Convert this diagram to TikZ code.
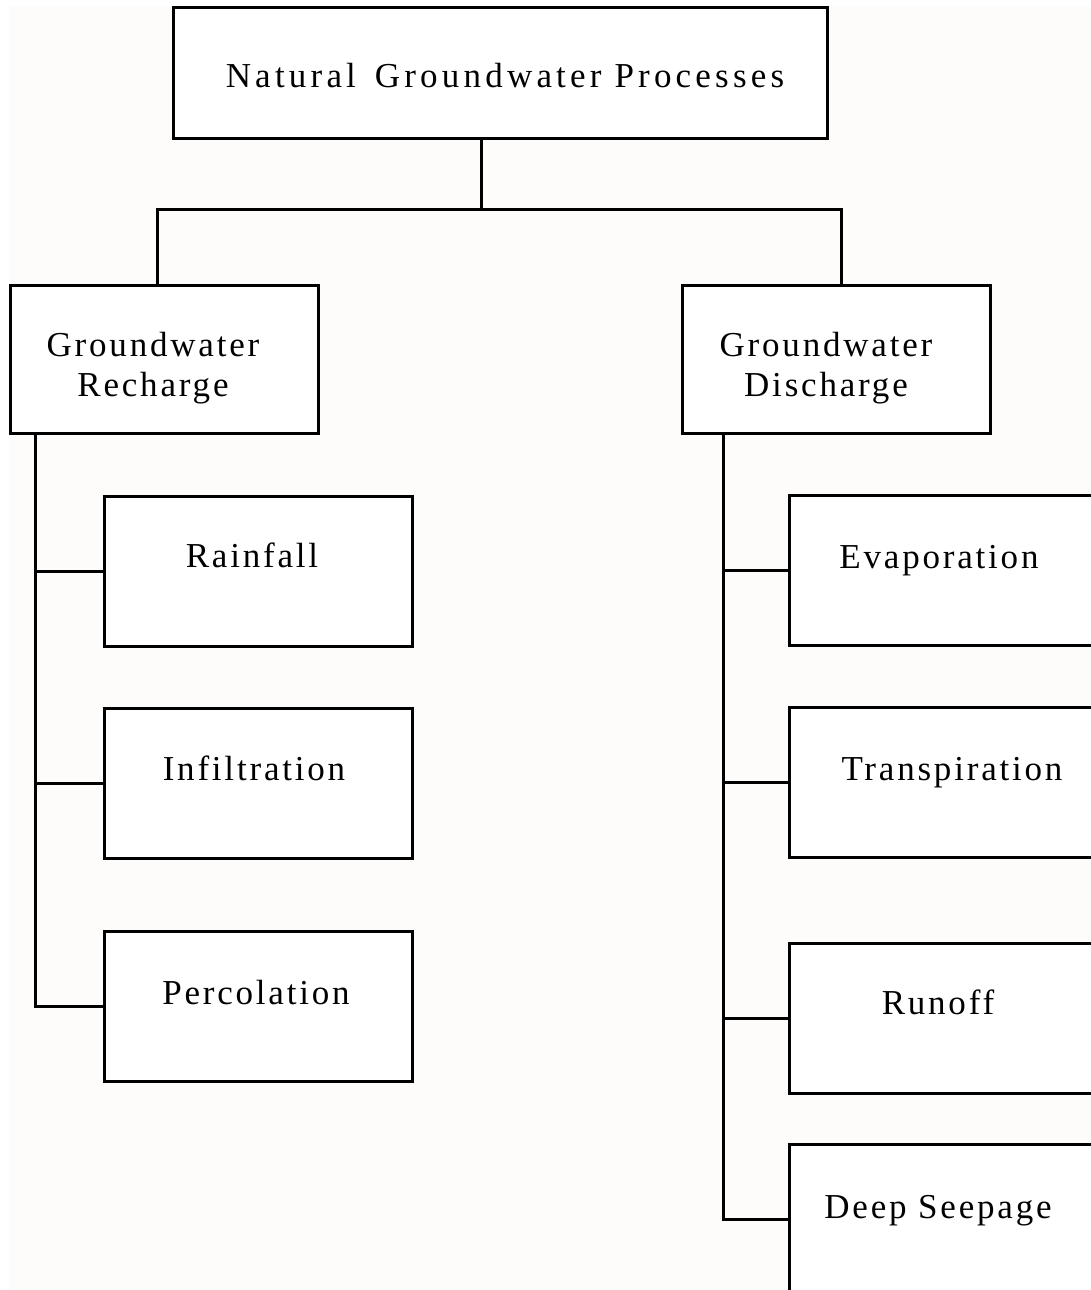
\documentclass[tikz,border=0pt]{standalone}
\usepackage{fontspec}
\setmainfont{Liberation Serif}[LetterSpace=8]
\definecolor{paper}{HTML}{FDFCFA}
\begin{document}
\begin{tikzpicture}[x=1pt,y=-1pt,
  box/.style={draw,line width=3pt,fill=white,inner sep=0pt,outer sep=0pt,minimum width=308pt,minimum height=150pt},
  lbl/.style={font=\fontsize{35}{40}\selectfont,inner sep=0pt,align=center},
  wire/.style={line width=3pt}]
\useasboundingbox (0,0) rectangle (1091,1290);
\clip (0,0) rectangle (1091,1290);
\fill[white] (0,0) rectangle (1091,1290);
\fill[paper] (9,6) rectangle (1091,1290);
% boxes
\node[box,minimum width=654pt,minimum height=130pt] (top) at (500,73) {};
\node[box,minimum height=148pt] (rech) at (164,359) {};
\node[box,minimum height=148pt] (dis) at (836,359) {};
\node[box] (rain) at (258,571.5) {};
\node[box] (infi) at (258,783) {};
\node[box] (perc) at (258,1006.5) {};
\node[box] (evap) at (943,570) {};
\node[box] (tran) at (943,782.5) {};
\node[box] (runo) at (943,1018.5) {};
\node[box] (deep) at (943,1219) {};
% labels
\node[lbl,anchor=base] (tTop) at (505,87) {\addfontfeature{LetterSpace=12}Natural\hspace{6pt} Groundwater Processes};
\node[lbl] (tRech) at (153,368) {Groundwater\\Recharge};
\node[lbl] (tDis) at (826,368) {Groundwater\\Discharge};
\node[lbl,anchor=base] (tRain) at (252,567) {Rainfall};
\node[lbl,anchor=base] (tInfi) at (254,780) {Infiltration};
\node[lbl,anchor=base] (tPerc) at (256,1004) {Percolation};
\node[lbl,anchor=base] (tEvap) at (939,568) {Evaporation};
\node[lbl,anchor=base] (tTran) at (952,780) {Transpiration};
\node[lbl,anchor=base] (tRuno) at (938,1014) {Runoff};
\node[lbl,anchor=base] (tDeep) at (938,1218) {Deep Seepage};
% connectors
\coordinate (hub) at (481,209);
\draw[wire] (hub |- top.south) -- (hub);
\draw[wire] ([xshift=-7pt]rech.north) |- (hub) -| ([xshift=5pt]dis.north);
\coordinate (lt) at (35,433);
\draw[wire] (lt |- rech.south) |- (perc.west);
\draw[wire] (lt |- rain.west) -- (rain.west);
\draw[wire] (lt |- infi.west) -- (infi.west);
\coordinate (rt) at (723,433);
\draw[wire] (rt |- dis.south) |- (deep.west);
\draw[wire] (rt |- evap.west) -- (evap.west);
\draw[wire] (rt |- tran.west) -- (tran.west);
\draw[wire] (rt |- runo.west) -- (runo.west);
\end{tikzpicture}
\end{document}
